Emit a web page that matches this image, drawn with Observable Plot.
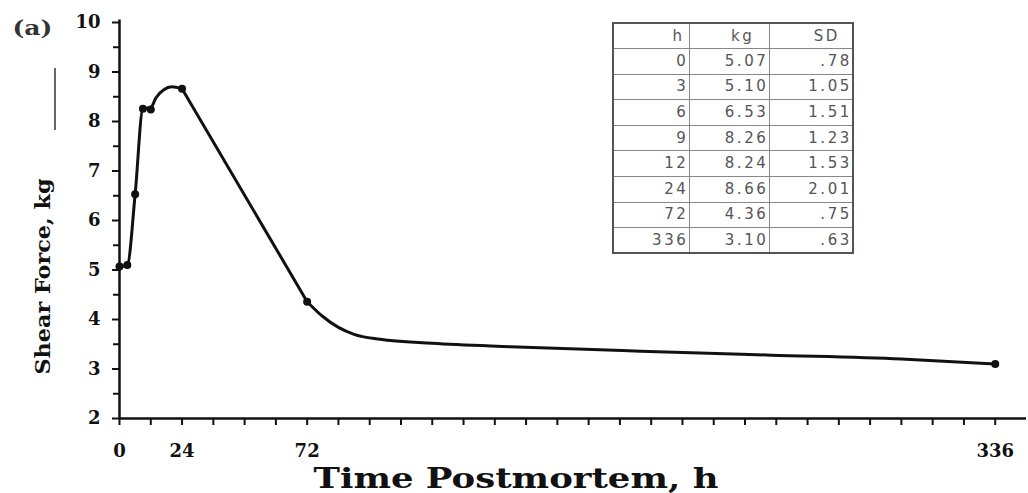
<!DOCTYPE html>
<html>
<head>
<meta charset="utf-8">
<script src="https://cdn.jsdelivr.net/npm/d3@7"></script>
<script src="https://cdn.jsdelivr.net/npm/@observablehq/plot@0.6"></script>
<style>
  html, body { margin: 0; padding: 0; background: #fff; }
  #wrap { position: relative; width: 1028px; height: 493px; overflow: hidden; }
  #tbl { position: absolute; left: 612px; top: 22px; border-collapse: collapse; table-layout: fixed;
         font-family: "DejaVu Sans", sans-serif; font-size: 15px; color: #555;
         border: 2px solid #555; letter-spacing: 2.6px; }
  #tbl td { box-sizing: border-box; border: 1px solid #888; height: 25.6px; padding: 0 0 0 0;
            text-align: right; line-height: 1; }
  #stray { position: absolute; left: 54px; top: 68px; width: 1.5px; height: 62px; background: #666; }
</style>
</head>
<body>
<div id="wrap"></div>
<script>
// ---- data ----
const hours = [0, 3, 6, 9, 12, 24, 72, 336];
const kgValues = [5.07, 5.10, 6.53, 8.26, 8.24, 8.66, 4.36, 3.10];
const kgLabels = ["5.07", "5.10", "6.53", "8.26", "8.24", "8.66", "4.36", "3.10"];
const sdLabels = [".78", "1.05", "1.51", "1.23", "1.53", "2.01", ".75", ".63"];
const tableHeader = ["h", "kg", "SD"];

// fitted curve as drawn in the figure, in three pieces
const riseHours = [0, 3, 6, 9, 12, 14, 17, 20, 24];
const riseKg    = [5.07, 5.10, 6.53, 8.26, 8.28, 8.48, 8.64, 8.70, 8.66];
const dropHours = [24, 72];
const dropKg    = [8.66, 4.36];
const tailHours = [72, 78, 84, 90, 100, 120, 150, 200, 250, 300, 336];
const tailKg    = [4.36, 4.06, 3.84, 3.70, 3.60, 3.52, 3.45, 3.36, 3.28, 3.20, 3.10];

const yMajor = [2, 3, 4, 5, 6, 7, 8, 9, 10];
const yMinor = [2.5, 3.5, 4.5, 5.5, 6.5, 7.5, 8.5, 9.5];
const xTicks = [0, 12, 24, 36, 48, 60, 72, 84, 96, 108, 120, 132, 144, 156, 168, 180, 192, 204, 216, 228, 240, 252, 264, 276, 288, 300, 312, 324, 336];
const xLabeled = [0, 24, 72, 336];

const yTitle = "Shear Force, kg";
const xTitle = "Time Postmortem, h";
const panel = "(a)";

const points = hours.map((h, i) => ({h, kg: kgValues[i]}));
const toRows = (hs, ks) => hs.map((h, i) => ({h, kg: ks[i]}));

const ink = "#111";
const chart = Plot.plot({
  width: 1028, height: 493,
  marginLeft: 119, marginTop: 22, marginBottom: 75, marginRight: 2,
  x: {domain: [0, 348]},
  y: {domain: [2, 10]},
  style: {fontFamily: "DejaVu Serif", fontSize: "18px", color: ink, background: "white"},
  marks: [
    Plot.axisY(yMinor, {tickSize: 6, tickFormat: () => "", label: null, strokeWidth: 2}),
    Plot.axisY(yMajor, {tickSize: 7, tickPadding: 12, fontWeight: "bold", label: null, strokeWidth: 2,
      tickFormat: d => String(d)}),
    Plot.axisX(xTicks, {tickSize: 7, tickPadding: 19, fontWeight: "bold", label: null, strokeWidth: 2,
      tickFormat: d => xLabeled.includes(d) ? String(d) : ""}),
    Plot.ruleX([0], {y1: 2, y2: 10.05, stroke: ink, strokeWidth: 2.5}),
    Plot.ruleY([2], {x1: 0, x2: 348, stroke: ink, strokeWidth: 2.5}),
    Plot.line(toRows(riseHours, riseKg), {x: "h", y: "kg", curve: "monotone-x", stroke: ink, strokeWidth: 3}),
    Plot.line(toRows(dropHours, dropKg), {x: "h", y: "kg", curve: "linear", stroke: ink, strokeWidth: 3}),
    Plot.line(toRows(tailHours, tailKg), {x: "h", y: "kg", curve: "monotone-x", stroke: ink, strokeWidth: 3}),
    Plot.dot(points, {x: "h", y: "kg", r: 4, fill: ink}),
    Plot.text([yTitle], {frameAnchor: "left", dx: -76, dy: 56, rotate: -90, textAnchor: "middle",
      fontSize: 21, fontWeight: "bold", fill: ink}),
    Plot.text([xTitle], {frameAnchor: "bottom", dx: -57, dy: 61, lineAnchor: "middle", textAnchor: "middle",
      fontSize: 27, fontWeight: "bold", fill: ink}),
    Plot.text([panel], {frameAnchor: "top-left", dx: -107, dy: 6, lineAnchor: "middle", textAnchor: "start",
      fontSize: 20, fontWeight: "bold", fill: "#333"})
  ]
});

// the scanned figure is stretched horizontally; mimic that with textLength (position untouched)
function stretchTo(svg, content, len) {
  d3.select(svg).selectAll("text").filter(function() { return this.textContent === content; })
    .attr("textLength", len).attr("lengthAdjust", "spacingAndGlyphs");
}
stretchTo(chart, xTitle, 405);
stretchTo(chart, yTitle, 196);
stretchTo(chart, panel, 40);

const wrap = document.getElementById("wrap");
wrap.appendChild(chart);

// data table inset
const rows = [tableHeader].concat(hours.map((h, i) => [String(h), kgLabels[i], sdLabels[i]]));
const widths = [76, 80, 84];
const table = d3.select(wrap).append("table").attr("id", "tbl");
table.selectAll("tr").data(rows).join("tr")
  .selectAll("td").data((r, ri) => r.map((v, ci) => ({v, ci, ri}))).join("td")
  .style("width", d => widths[d.ci] + "px")
  .style("padding-right", d => d.ri === 0 ? ([4, 14, 12][d.ci] + "px") : "0px")
  .text(d => d.v);

d3.select(wrap).append("div").attr("id", "stray");
</script>
</body>
</html>
